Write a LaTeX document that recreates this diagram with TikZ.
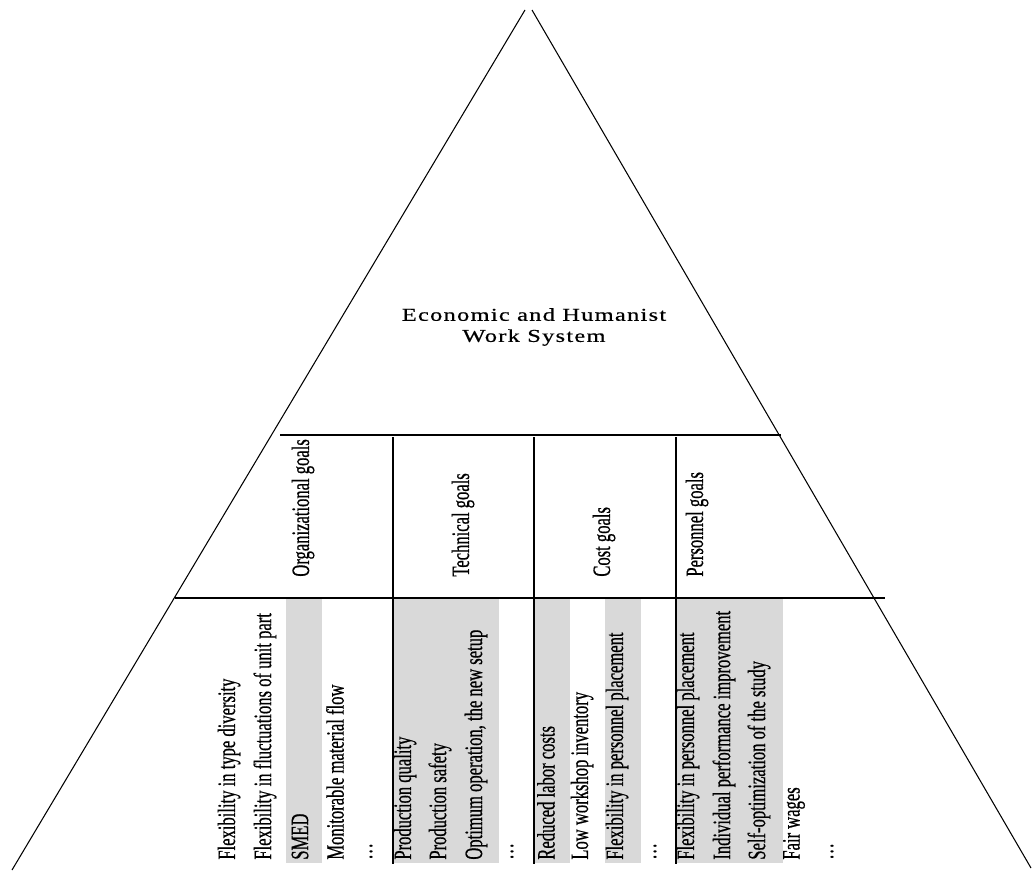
\documentclass[tikz,border=0pt]{standalone}
\usepackage{fontspec}
\setmainfont{Liberation Serif}
\newfontfamily\narrowfont[FakeStretch=0.665,FakeBold=0.6]{Liberation Serif}
\newfontfamily\spacedfont[LetterSpace=7,FakeStretch=1.35,FakeBold=0.5]{Liberation Serif}
\definecolor{bandgray}{RGB}{217,217,217}
\tikzset{
  goal/.style={rotate=90, anchor=west, inner sep=0pt, font=\narrowfont\fontsize{14.2}{17}\selectfont},
  rule/.style={line width=0.6pt}
}
\begin{document}
\begin{tikzpicture}[x=0.02cm, y=-0.02cm]
\useasboundingbox (0,0) rectangle (1032,872);
\fill[bandgray] (286,598) rectangle (322,863);
\fill[bandgray] (393,598) rectangle (499,863);
\fill[bandgray] (534,598) rectangle (570,863);
\fill[bandgray] (605,598) rectangle (641,863);
\fill[bandgray] (676,598) rectangle (783,863);
\draw[rule] (525,10) -- (12,870);
\draw[rule] (532,10) -- (1031,868);
\draw[rule] (280,435) -- (781,435);
\draw[rule] (175,598) -- (885,598);
\draw[rule] (393,437) -- (393,864);
\draw[rule] (534,437) -- (534,864);
\draw[rule] (676,437) -- (676,864);
\node[align=center, font=\spacedfont\fontsize{10.3}{12}\selectfont] (sys) at (534,327) {Economic and Humanist\\Work System};
\node[goal] (org) at (303,577) {Organizational goals};
\node[goal] (tech) at (463,577) {Technical goals};
\node[goal] (cost) at (604,577) {Cost goals};
\node[goal] (pers) at (697,577) {Personnel goals};
\node[goal] (org1) at (229,860) {Flexibility in type diversity};
\node[goal] (org2) at (265,860) {Flexibility in fluctuations of unit part};
\node[goal] (org3) at (300,860) {SMED};
\node[goal] (org4) at (335,860) {Monitorable material flow};
\node[goal] (org5) at (371,860) {\dots};
\node[goal] (tech1) at (405,860) {Production quality};
\node[goal] (tech2) at (440,860) {Production safety};
\node[goal] (tech3) at (476,860) {Optimum operation, the new setup};
\node[goal] (tech4) at (512,860) {\dots};
\node[goal] (cost1) at (546,860) {Reduced labor costs};
\node[goal] (cost2) at (582,860) {Low workshop inventory};
\node[goal] (cost3) at (617,860) {Flexibility in personnel placement};
\node[goal] (cost4) at (655,860) {\dots};
\node[goal] (pers1) at (688,860) {Flexibility in personnel placement};
\node[goal] (pers2) at (724,860) {Individual performance improvement};
\node[goal] (pers3) at (759,860) {Self-optimization of the study};
\node[goal] (pers4) at (794,860) {Fair wages};
\node[goal] (pers5) at (832,860) {\dots};
\end{tikzpicture}
\end{document}
